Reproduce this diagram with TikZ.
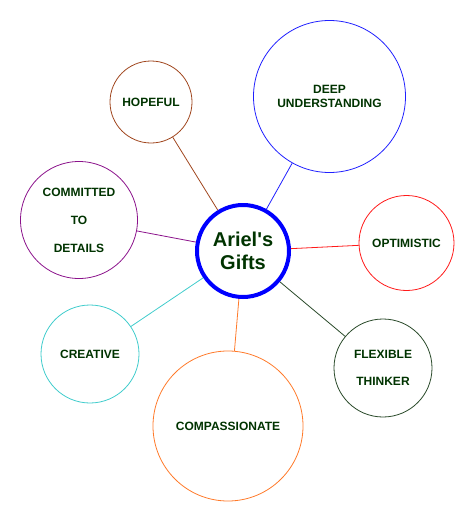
\documentclass[tikz,border=0pt]{standalone}
\usepackage{fontspec}
\setmainfont{Liberation Sans}
\usetikzlibrary{positioning}

\definecolor{textgreen}{HTML}{003300}
\definecolor{hopebrown}{HTML}{A0461E}
\definecolor{deepblue}{HTML}{2020FF}
\definecolor{commitpurple}{HTML}{8B128B}
\definecolor{optired}{HTML}{FF1A1A}
\definecolor{creativecyan}{HTML}{40CCCC}
\definecolor{compassorange}{HTML}{FF7A2A}
\definecolor{flexgreen}{HTML}{2A4A2A}

\begin{document}
\begin{tikzpicture}[x=1pt, y=-1pt,
    gift/.style={circle, draw, line width=0.8pt, inner sep=0pt, align=center,
        text=textgreen, font=\fontsize{12}{14}\selectfont\bfseries},
    link/.style={line width=0.8pt}]
    % keep the page the size of the original
    \useasboundingbox (0,0) rectangle (475,522);

    % Center circle
    \node[gift, draw=blue, line width=4pt, minimum size=92pt,
        font=\fontsize{20}{23}\selectfont\bfseries] (gifts) at (243,251)
        {Ariel\textquotesingle s\\Gifts};

    % The gifts around it
    \node[gift, draw=hopebrown, minimum size=82pt] (hopeful) at (151,102) {HOPEFUL};
    \node[gift, draw=deepblue, minimum size=152pt] (deep) at (329.5,96.5) {DEEP\\UNDERSTANDING};
    \node[gift, draw=commitpurple, minimum size=117pt] (committed) at (79,220)
        {COMMITTED\\[14pt]TO\\[14pt]DETAILS};
    \node[gift, draw=optired, minimum size=95pt] (optimistic) at (406.5,243) {OPTIMISTIC};
    \node[gift, draw=creativecyan, minimum size=98pt] (creative) at (90,354) {CREATIVE};
    \node[gift, draw=compassorange, minimum size=150pt] (compassionate) at (228,426) {COMPASSIONATE};
    \node[gift, draw=flexgreen, minimum size=98pt] (flexible) at (383,368)
        {FLEXIBLE\\[13pt]THINKER};

    % Connect each gift to the center
    \draw[link, hopebrown] (gifts) -- (hopeful);
    \draw[link, deepblue] (gifts) -- (deep);
    \draw[link, commitpurple] (gifts) -- (committed);
    \draw[link, optired] (gifts) -- (optimistic);
    \draw[link, creativecyan] (gifts) -- (creative);
    \draw[link, compassorange] (gifts) -- (compassionate);
    \draw[link, flexgreen] (gifts) -- (flexible);
\end{tikzpicture}
\end{document}
